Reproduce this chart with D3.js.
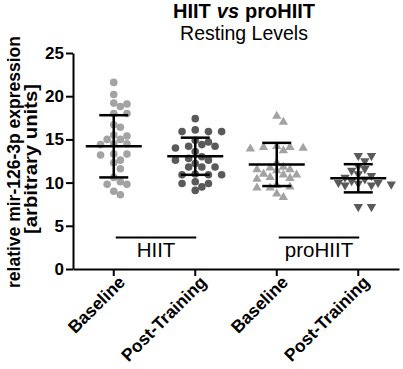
<!DOCTYPE html>
<html>
<head>
<meta charset="utf-8">
<script src="https://cdn.jsdelivr.net/npm/d3@7"></script>
<style>
  body { margin: 0; background: #fff; }
  svg { display: block; font-family: "Liberation Sans", Arial, sans-serif; }
</style>
</head>
<body>
<div id="chart"></div>
<script>
// data
const catIds = ["hiitBase", "hiitPost", "proBase", "proPost"];
const catLabels = ["Baseline", "Post-Training", "Baseline", "Post-Training"];
const groupNames = ["HIIT", "proHIIT"];

const hiitBaseline = [21.6, 20.2, 19.2, 19.1, 18.8, 18.0, 18.0, 16.7, 16.4, 15.5, 15.4, 15.0, 15.0, 14.5,
  14.5, 14.4, 13.3, 13.3, 13.2, 12.6, 12.3, 11.6, 10.6, 10.1, 9.8, 9.8, 9.0, 8.6];
const hiitPost = [17.4, 16.1, 15.9, 15.9, 15.9, 14.9, 14.7, 14.4, 14.2, 14.2, 14.0, 13.6, 13.0, 12.8,
  12.6, 12.6, 12.2, 11.8, 11.8, 11.8, 11.0, 10.9, 10.9, 10.9, 10.1, 9.9, 9.9, 9.5, 9.1];
const proBaseline = [17.7, 17.0, 14.2, 14.1, 14.1, 14.0, 13.9, 13.7, 12.3, 11.8, 11.7, 11.5, 11.5, 11.4,
  11.0, 10.9, 10.9, 10.6, 10.5, 10.4, 9.7, 9.5, 9.4, 9.4, 8.7, 8.3];
const proPost = [13.1, 13.1, 12.5, 11.9, 11.6, 11.4, 11.0, 10.8, 10.6, 10.4, 10.2, 10.0, 10.0, 9.9,
  9.8, 9.7, 9.7, 7.2, 7.2];

const means = [14.2, 13.05, 12.1, 10.5];
const sds = [3.6, 2.15, 2.5, 1.63];
const yTicks = [0, 5, 10, 15, 20, 25];

const seriesValues = [hiitBaseline, hiitPost, proBaseline, proPost];
const shapes = ["circle", "circle", "up", "down"];
const colors = ["#a3a3a3", "#5a5a5a", "#a3a3a3", "#5a5a5a"];

const width = 403, height = 369;
const margin = {top: 53, right: 4, bottom: 100, left: 73};

const svg = d3.select("#chart").append("svg")
  .attr("width", width).attr("height", height);

const x = d3.scaleBand().domain(catIds).range([margin.left, width - margin.right]);
const y = d3.scaleLinear().domain([0, 25]).range([height - margin.bottom, margin.top]);
const cx = id => x(id) + x.bandwidth() / 2;

// y axis
const yAxis = svg.append("g")
  .attr("transform", `translate(${margin.left},0)`)
  .call(d3.axisLeft(y).tickValues(yTicks).tickSize(7).tickSizeOuter(0).tickPadding(2));
yAxis.select(".domain").attr("stroke-width", 2);
yAxis.selectAll(".tick line").attr("stroke-width", 2);
yAxis.selectAll("text")
  .attr("font-size", 17).attr("font-weight", "bold")
  .attr("font-family", "Liberation Sans, Arial, sans-serif").attr("fill", "#000");

// x axis
const xAxis = svg.append("g")
  .attr("transform", `translate(0,${y(0)})`)
  .call(d3.axisBottom(x).tickSize(7).tickSizeOuter(0).tickFormat((d, i) => catLabels[i]));
xAxis.select(".domain").attr("stroke-width", 2);
xAxis.selectAll(".tick line").attr("stroke-width", 2);
xAxis.selectAll("text")
  .attr("font-size", 17.5).attr("font-weight", "bold")
  .attr("font-family", "Liberation Sans, Arial, sans-serif").attr("fill", "#000")
  .attr("text-anchor", "end")
  .attr("transform", "translate(8,10) rotate(-45)")
  .attr("dy", "0.35em").attr("y", 0).attr("x", 0);

// beeswarm offsets (simple, deterministic)
const r = 3.8, step = 6.6;
function swarm(vals) {
  const pts = vals.map(v => ({v, py: y(v)})).sort((a, b) => b.v - a.v);
  const placed = [];
  const order = [0, 1, -1, 2, -2, 3, -3, 4, -4, 5, -5];
  pts.forEach(p => {
    for (const k of order) {
      const dx = k * step;
      if (placed.every(q => (q.dx - dx) ** 2 + (q.py - p.py) ** 2 >= (2 * r * 0.92) ** 2)) {
        p.dx = dx; break;
      }
    }
    if (p.dx === undefined) p.dx = 0;
    placed.push(p);
  });
  return pts;
}

const triUp = d3.symbol().type(d3.symbolTriangle).size(38);

catIds.forEach((id, i) => {
  const pts = swarm(seriesValues[i]);
  const g = svg.append("g");
  if (shapes[i] === "circle") {
    g.selectAll("circle").data(pts).join("circle")
      .attr("cx", d => cx(id) + d.dx)
      .attr("cy", d => d.py)
      .attr("r", r)
      .attr("fill", colors[i]);
  } else {
    g.selectAll("path").data(pts).join("path")
      .attr("d", triUp)
      .attr("transform", d => `translate(${cx(id) + d.dx},${d.py}) rotate(${shapes[i] === "down" ? 180 : 0})`)
      .attr("fill", colors[i]);
  }

  // mean and SD
  const m = means[i], s = sds[i], c = cx(id);
  const eb = svg.append("g").attr("stroke", "#000").attr("stroke-width", 2.5);
  eb.append("line").attr("x1", c - 28).attr("x2", c + 28).attr("y1", y(m)).attr("y2", y(m));
  eb.append("line").attr("x1", c).attr("x2", c).attr("y1", y(m + s)).attr("y2", y(m - s));
  eb.append("line").attr("x1", c - 14.5).attr("x2", c + 14.5).attr("y1", y(m + s)).attr("y2", y(m + s));
  eb.append("line").attr("x1", c - 14.5).attr("x2", c + 14.5).attr("y1", y(m - s)).attr("y2", y(m - s));
});

// group brackets
groupNames.forEach((name, gi) => {
  const a = cx(catIds[gi * 2]) + 2, b = cx(catIds[gi * 2 + 1]) + 1;
  svg.append("line")
    .attr("x1", a).attr("x2", b).attr("y1", 237.5).attr("y2", 237.5)
    .attr("stroke", "#000").attr("stroke-width", 2);
  svg.append("text")
    .attr("x", (a + b) / 2).attr("y", 257)
    .attr("text-anchor", "middle")
    .attr("font-size", 20.5)
    .text(name);
});

// title: three pieces laid side by side (italic "vs")
const titleParts = [
  {t: "HIIT", italic: false},
  {t: "vs", italic: true},
  {t: "proHIIT", italic: false}
];
const tg = svg.append("g");
const pieces = titleParts.map(p => tg.append("text")
  .attr("y", 18)
  .attr("font-size", 20).attr("font-weight", "bold")
  .attr("font-style", p.italic ? "italic" : "normal")
  .text(p.t));
const gap = 6;
const widths = pieces.map(s => s.node().getComputedTextLength());
const total = d3.sum(widths) + gap * (widths.length - 1);
let cur = 244 - total / 2;
pieces.forEach((s, i) => { s.attr("x", cur); cur += widths[i] + gap; });

svg.append("text")
  .attr("x", 244).attr("y", 40)
  .attr("text-anchor", "middle")
  .attr("font-size", 19.5)
  .text("Resting Levels");

// y label
const yMid = (y(0) + y(25)) / 2;
svg.append("text")
  .attr("transform", `translate(20,${yMid + 1}) rotate(-90)`)
  .attr("text-anchor", "middle")
  .attr("font-size", 17.5).attr("font-weight", "bold")
  .text("relative mir-126-3p expression");
svg.append("text")
  .attr("transform", `translate(37,${yMid - 2}) rotate(-90)`)
  .attr("text-anchor", "middle")
  .attr("font-size", 17.5).attr("font-weight", "bold")
  .attr("textLength", 150).attr("lengthAdjust", "spacingAndGlyphs")
  .text("[arbitrary units]");
</script>
</body>
</html>
